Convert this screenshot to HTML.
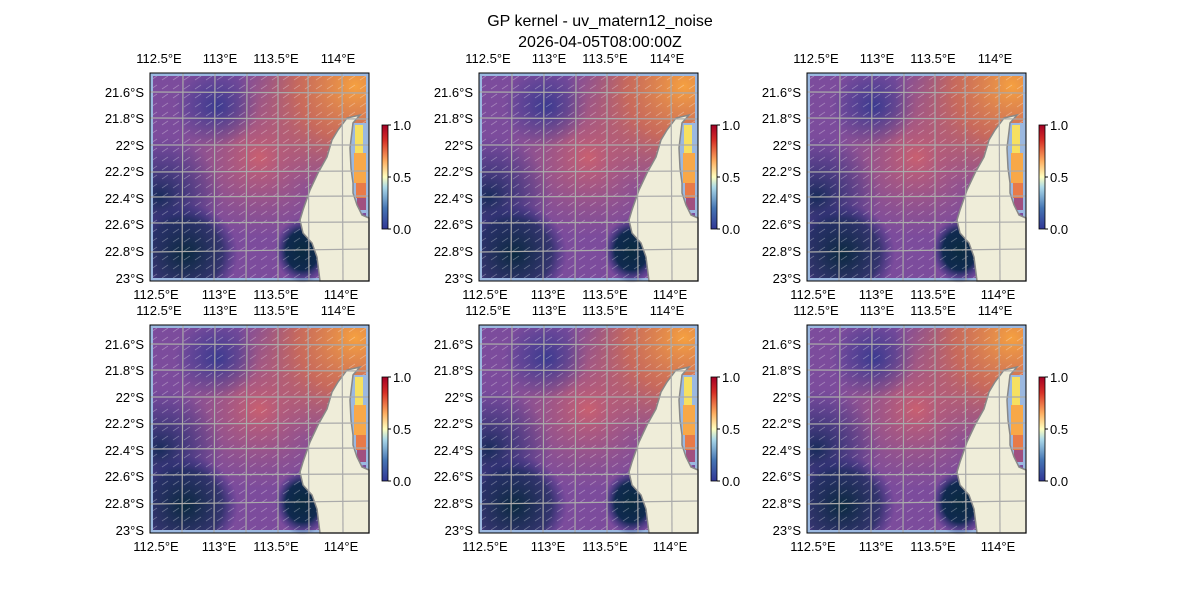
<!DOCTYPE html>
<html><head><meta charset="utf-8"><style>
body{margin:0;background:#fff;}
svg text{font-family:"Liberation Sans",sans-serif;font-size:13px;fill:#000;}
</style></head><body>
<svg width="1200" height="600" viewBox="0 0 1200 600" xmlns="http://www.w3.org/2000/svg">
<defs>
<linearGradient id="cb" x1="0" y1="1" x2="0" y2="0">
<stop offset="0" stop-color="#313695"/><stop offset="0.2" stop-color="#4575b4"/><stop offset="0.4" stop-color="#abd9e9"/><stop offset="0.5" stop-color="#ffffbf"/><stop offset="0.65" stop-color="#fdae61"/><stop offset="0.85" stop-color="#d73027"/><stop offset="1" stop-color="#a50026"/>
</linearGradient>
<radialGradient id="g1" cx="0.95" cy="0.05" r="0.55"><stop offset="0" stop-color="#f5a040"/><stop offset="0.5" stop-color="#d8704e" stop-opacity="0.8"/><stop offset="1" stop-color="#c06070" stop-opacity="0"/></radialGradient>
<radialGradient id="g2" cx="0.5" cy="0.4" r="0.4"><stop offset="0" stop-color="#c96070"/><stop offset="1" stop-color="#a85a80" stop-opacity="0"/></radialGradient>
<radialGradient id="g3" cx="0.03" cy="0.6" r="0.3"><stop offset="0" stop-color="#182c5a"/><stop offset="1" stop-color="#303080" stop-opacity="0"/></radialGradient>
<radialGradient id="g4" cx="0.15" cy="0.88" r="0.25"><stop offset="0" stop-color="#0a2a40"/><stop offset="0.7" stop-color="#152a5a" stop-opacity="0.7"/><stop offset="1" stop-color="#252a80" stop-opacity="0"/></radialGradient>
<radialGradient id="g5" cx="0.3" cy="0.15" r="0.2"><stop offset="0" stop-color="#3a3a90"/><stop offset="1" stop-color="#3a3a90" stop-opacity="0"/></radialGradient>
<radialGradient id="g6" cx="0.5" cy="0.5" r="0.5"><stop offset="0" stop-color="#0a2a40"/><stop offset="0.6" stop-color="#102a50"/><stop offset="1" stop-color="#303088" stop-opacity="0"/></radialGradient>
<pattern id="arr" width="11" height="9" patternUnits="userSpaceOnUse"><path d="M1 7 L7 3" stroke="#ffffff" stroke-opacity="0.3" stroke-width="0.8"/></pattern>
<g id="panel">
<rect x="0" y="0" width="219" height="208" fill="#9bb8e0"/>
<rect x="3" y="3" width="213" height="202" fill="#7c4c9c"/>
<rect x="3" y="3" width="213" height="202" fill="url(#g2)"/>
<rect x="3" y="3" width="213" height="202" fill="url(#g5)"/>
<rect x="3" y="3" width="213" height="202" fill="url(#g3)"/>
<rect x="3" y="3" width="213" height="202" fill="url(#g4)"/>
<rect x="3" y="3" width="213" height="202" fill="url(#g1)"/>
<rect x="125" y="145" width="55" height="65" fill="url(#g6)"/>
<rect x="3" y="3" width="213" height="202" fill="url(#arr)"/>
<rect x="200" y="50" width="19" height="90" fill="#9bb8e0"/>
<rect x="205" y="52" width="8" height="28" fill="#f6e060"/>
<rect x="204" y="80" width="12" height="30" fill="#f8a848"/>
<rect x="206" y="110" width="10" height="15" fill="#e87a48"/>
<rect x="207" y="125" width="9" height="12" fill="#a05080"/>
<path d="M210 42 L197 45 L188 57 L182 67 L177 84 L168 100 L160 117 L153 137 L150 147 L153 160 L162 170 L167 184 L170 208 L219 208 L219 145 L212 142 L207 132 L203 120 L203 110 L201 95 L200 75 L203 50 Z" fill="#efedd9" stroke="#888" stroke-width="1.5"/>
<g stroke="#aaa" stroke-width="1.2" fill="none">
<path d="M33 0 L32 208"/><path d="M65 0 L64 208"/><path d="M97 0 L96 208"/><path d="M128 0 L128 208"/><path d="M158 0 L159 208"/><path d="M192 0 L193 208"/>
<path d="M0 19 L219 20"/><path d="M0 45 L219 46"/><path d="M0 72 L219 72"/><path d="M0 99 L219 98"/><path d="M0 124 L219 123"/><path d="M0 150 L219 149"/><path d="M0 179 L219 176"/>
</g>
<rect x="0" y="0" width="219" height="208" fill="none" stroke="#000" stroke-width="1"/>
<rect x="232" y="52" width="6" height="104" fill="url(#cb)" stroke="#000" stroke-width="0.8"/>
<g stroke="#000"><path d="M238 52 h3"/><path d="M238 104 h3"/><path d="M238 156 h3"/></g>
</g>
</defs>
<text x="600" y="26" text-anchor="middle" style="font-size:16px">GP kernel - uv_matern12_noise</text>
<text x="600" y="47" text-anchor="middle" style="font-size:16px">2026-04-05T08:00:00Z</text>

<use href="#panel" x="150" y="73"/>
<use href="#panel" x="479" y="73"/>
<use href="#panel" x="807" y="73"/>
<use href="#panel" x="150" y="325"/>
<use href="#panel" x="479" y="325"/>
<use href="#panel" x="807" y="325"/>

<g text-anchor="middle">
<text x="159" y="63">112.5°E</text><text x="220" y="63">113°E</text><text x="276" y="63">113.5°E</text><text x="338" y="63">114°E</text>
<text x="156" y="299">112.5°E</text><text x="219" y="299">113°E</text><text x="276" y="299">113.5°E</text><text x="341" y="299">114°E</text>
<text x="488" y="63">112.5°E</text><text x="549" y="63">113°E</text><text x="605" y="63">113.5°E</text><text x="667" y="63">114°E</text>
<text x="485" y="299">112.5°E</text><text x="548" y="299">113°E</text><text x="605" y="299">113.5°E</text><text x="670" y="299">114°E</text>
<text x="816" y="63">112.5°E</text><text x="877" y="63">113°E</text><text x="933" y="63">113.5°E</text><text x="995" y="63">114°E</text>
<text x="813" y="299">112.5°E</text><text x="876" y="299">113°E</text><text x="933" y="299">113.5°E</text><text x="998" y="299">114°E</text>
<text x="159" y="315">112.5°E</text><text x="220" y="315">113°E</text><text x="276" y="315">113.5°E</text><text x="338" y="315">114°E</text>
<text x="156" y="551">112.5°E</text><text x="219" y="551">113°E</text><text x="276" y="551">113.5°E</text><text x="341" y="551">114°E</text>
<text x="488" y="315">112.5°E</text><text x="549" y="315">113°E</text><text x="605" y="315">113.5°E</text><text x="667" y="315">114°E</text>
<text x="485" y="551">112.5°E</text><text x="548" y="551">113°E</text><text x="605" y="551">113.5°E</text><text x="670" y="551">114°E</text>
<text x="816" y="315">112.5°E</text><text x="877" y="315">113°E</text><text x="933" y="315">113.5°E</text><text x="995" y="315">114°E</text>
<text x="813" y="551">112.5°E</text><text x="876" y="551">113°E</text><text x="933" y="551">113.5°E</text><text x="998" y="551">114°E</text>
</g>
<g text-anchor="end">
<text x="144" y="97">21.6°S</text><text x="144" y="123">21.8°S</text><text x="144" y="150">22°S</text><text x="144" y="176">22.2°S</text><text x="144" y="203">22.4°S</text><text x="144" y="229">22.6°S</text><text x="144" y="256">22.8°S</text><text x="144" y="283">23°S</text>
<text x="473" y="97">21.6°S</text><text x="473" y="123">21.8°S</text><text x="473" y="150">22°S</text><text x="473" y="176">22.2°S</text><text x="473" y="203">22.4°S</text><text x="473" y="229">22.6°S</text><text x="473" y="256">22.8°S</text><text x="473" y="283">23°S</text>
<text x="801" y="97">21.6°S</text><text x="801" y="123">21.8°S</text><text x="801" y="150">22°S</text><text x="801" y="176">22.2°S</text><text x="801" y="203">22.4°S</text><text x="801" y="229">22.6°S</text><text x="801" y="256">22.8°S</text><text x="801" y="283">23°S</text>
<text x="144" y="349">21.6°S</text><text x="144" y="375">21.8°S</text><text x="144" y="402">22°S</text><text x="144" y="428">22.2°S</text><text x="144" y="455">22.4°S</text><text x="144" y="481">22.6°S</text><text x="144" y="508">22.8°S</text><text x="144" y="535">23°S</text>
<text x="473" y="349">21.6°S</text><text x="473" y="375">21.8°S</text><text x="473" y="402">22°S</text><text x="473" y="428">22.2°S</text><text x="473" y="455">22.4°S</text><text x="473" y="481">22.6°S</text><text x="473" y="508">22.8°S</text><text x="473" y="535">23°S</text>
<text x="801" y="349">21.6°S</text><text x="801" y="375">21.8°S</text><text x="801" y="402">22°S</text><text x="801" y="428">22.2°S</text><text x="801" y="455">22.4°S</text><text x="801" y="481">22.6°S</text><text x="801" y="508">22.8°S</text><text x="801" y="535">23°S</text>
</g>
<g>
<text x="393" y="130">1.0</text><text x="393" y="182">0.5</text><text x="393" y="234">0.0</text>
<text x="722" y="130">1.0</text><text x="722" y="182">0.5</text><text x="722" y="234">0.0</text>
<text x="1050" y="130">1.0</text><text x="1050" y="182">0.5</text><text x="1050" y="234">0.0</text>
<text x="393" y="382">1.0</text><text x="393" y="434">0.5</text><text x="393" y="486">0.0</text>
<text x="722" y="382">1.0</text><text x="722" y="434">0.5</text><text x="722" y="486">0.0</text>
<text x="1050" y="382">1.0</text><text x="1050" y="434">0.5</text><text x="1050" y="486">0.0</text>
</g>
</svg>
</body></html>
